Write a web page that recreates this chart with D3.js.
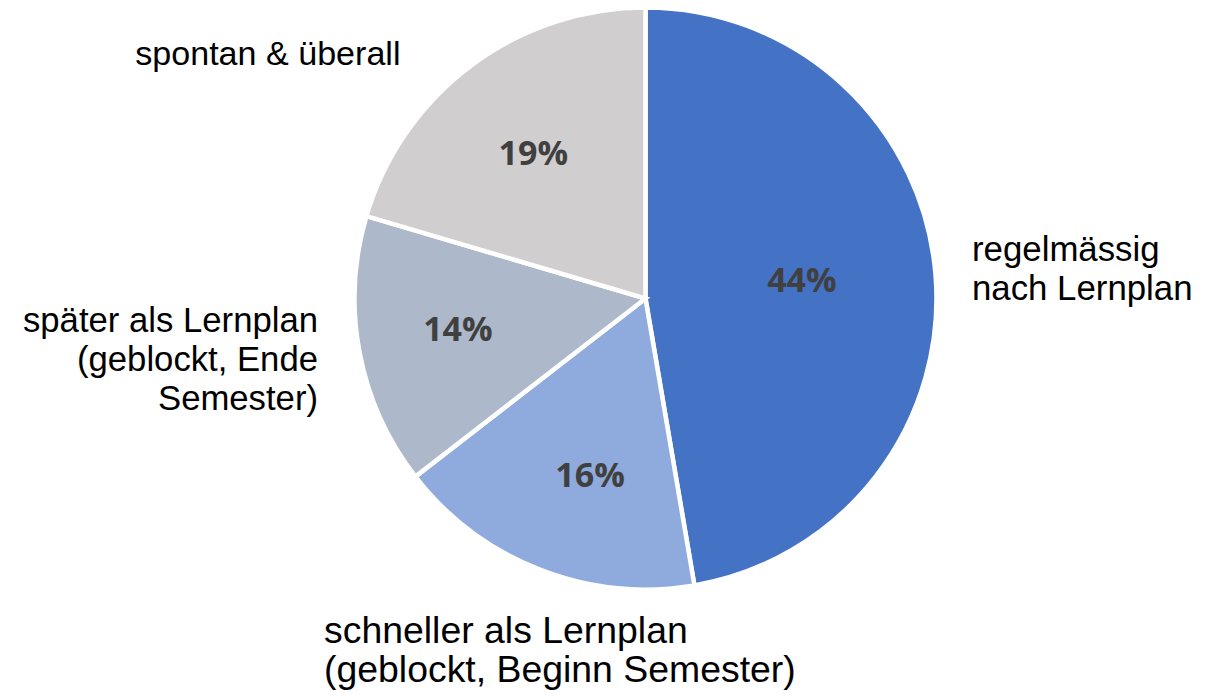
<!DOCTYPE html>
<html><head><meta charset="utf-8">
<script src="https://cdn.jsdelivr.net/npm/d3@7"></script>
<style>html,body{margin:0;padding:0;background:#fff;}svg{display:block;}</style>
</head><body>
<svg id="chart" width="1216" height="696"></svg>
<script>
// Data
const categories = [
  "regelmässig\nnach Lernplan",
  "schneller als Lernplan\n(geblockt, Beginn Semester)",
  "später als Lernplan\n(geblockt, Ende\nSemester)",
  "spontan & überall"
];
const values = [44, 16, 14, 19];
const valueLabels = ["44%", "16%", "14%", "19%"];
const colors = ["#4472C4", "#8FAADC", "#ADB9CA", "#D0CECE"];

// Layout
const W = 1216, H = 696;
const cx = 645.5, cy = 298.5, R = 291;
const pctRadius = [157.5, 184.5, 190, 184];
const pctAngleShift = [-1.9, -3.8, 1.5, -0.8]; // degrees
// outer label anchors relative to pie centre
const labelAnchors = [
  {dx: 326.5, dy: -37.5, anchor: "start", size: 34.8},
  {dx: -321.5, dy: 344.5, anchor: "start", size: 37.4},
  {dx: -327.5, dy: 33.5, anchor: "end", size: 34.7},
  {dx: -245, dy: -233.5, anchor: "end", size: 34.1}
];
const lineH = 38.8;

const svg = d3.select("#chart");
const g = svg.append("g").attr("transform", `translate(${cx},${cy})`);

const pie = d3.pie().sort(null).value(d => d)(values);
const arc = d3.arc().innerRadius(0).outerRadius(R);

g.selectAll("path.slice").data(pie).join("path")
  .attr("class", "slice")
  .attr("d", arc)
  .attr("fill", (d, i) => colors[i])
  .attr("stroke", "#fff")
  .attr("stroke-width", 4.5)
  .attr("stroke-linejoin", "miter");

g.selectAll("text.pct").data(pie).join("text")
  .attr("class", "pct")
  .attr("transform", (d, i) => {
    const a = (d.startAngle + d.endAngle) / 2 + pctAngleShift[i] * Math.PI / 180;
    const r = pctRadius[i];
    return `translate(${r * Math.sin(a)},${-r * Math.cos(a)})`;
  })
  .attr("text-anchor", "middle")
  .attr("dy", "0.36em")
  .attr("font-family", "'Open Sans', sans-serif")
  .attr("font-weight", 700)
  .attr("font-size", 34)
  .attr("fill", "#404040")
  .text((d, i) => valueLabels[i]);

categories.forEach((c, i) => {
  const a = labelAnchors[i];
  const t = g.append("text")
    .attr("x", a.dx).attr("y", a.dy)
    .attr("text-anchor", a.anchor)
    .attr("font-family", "'Liberation Sans', Arial, sans-serif")
    .attr("font-size", a.size)
    .attr("fill", "#000");
  c.split("\n").forEach((line, j) => {
    t.append("tspan").attr("x", a.dx).attr("y", a.dy + j * lineH).text(line);
  });
});
</script>
</body></html>
